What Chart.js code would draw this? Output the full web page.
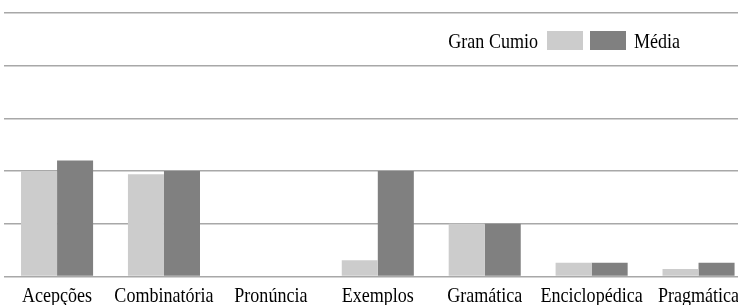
<!DOCTYPE html>
<html><head><meta charset="utf-8">
<script src="https://cdn.jsdelivr.net/npm/chart.js@4"></script>
<style>
html,body{margin:0;padding:0;background:#fff;overflow:hidden;width:738px;height:305px}
#wrap{position:relative;width:752px;height:305px}
</style>
</head><body><div id="wrap"><canvas id="c"></canvas></div>
<script>
const categories = ['Acepções','Combinatória','Pronúncia','Exemplos','Gramática','Enciclopédica','Pragmática'];
const seriesNames = ['Gran Cumio','Média'];
const granCumio = [2.0, 1.94, 0, 0.31, 1.0, 0.26, 0.14];
const media = [2.2, 2.0, 0, 2.0, 1.0, 0.26, 0.26];
const yTicks = [0,1,2,3,4,5];
const colors = ['#cccccc','#808080'];

const FONT = '22px "Liberation Serif", "Times New Roman", serif';
const SQUEEZE = 0.82;

function squeezedText(ctx, text, x, y, align){
  ctx.save();
  ctx.font = FONT;
  ctx.fillStyle = '#000';
  ctx.textBaseline = 'alphabetic';
  ctx.textAlign = align;
  ctx.translate(x, y);
  ctx.scale(SQUEEZE, 1);
  ctx.fillText(text, 0, 0);
  ctx.restore();
}

const textPlugin = {
  id: 'textPlugin',
  afterDraw(chart){
    const ctx = chart.ctx;
    const xs = chart.scales.x;
    const base = chart.chartArea.bottom;
    categories.forEach((c,i)=>{
      squeezedText(ctx, c, xs.getPixelForValue(i), base + 25, 'center');
    });
    // legend
    const ds = chart.data.datasets;
    const ly = 48;
    squeezedText(ctx, ds[0].label, 538, ly, 'right');
    ctx.save();
    ctx.fillStyle = ds[0].backgroundColor;
    ctx.fillRect(547, 31, 36, 19);
    ctx.fillStyle = ds[1].backgroundColor;
    ctx.fillRect(590, 31, 36, 19);
    ctx.restore();
    squeezedText(ctx, ds[1].label, 634, ly, 'left');
  }
};

new Chart(document.getElementById('c'), {
  type: 'bar',
  data: {
    labels: categories,
    datasets: [
      {label: seriesNames[0], data: granCumio, backgroundColor: colors[0], borderWidth: 0},
      {label: seriesNames[1], data: media, backgroundColor: colors[1], borderWidth: 0}
    ]
  },
  options: {
    responsive: true,
    maintainAspectRatio: false,
    animation: false,
    devicePixelRatio: 1,
    categoryPercentage: 0.674,
    barPercentage: 1,
    layout: {padding: {left: 3.6, right: 0, top: 13, bottom: 28.5}},
    plugins: {legend: {display: false}, tooltip: {enabled: false}},
    scales: {
      x: {display: false, offset: true},
      y: {
        min: yTicks[0], max: yTicks[yTicks.length-1],
        afterBuildTicks(scale){ scale.ticks = yTicks.map(v=>({value:v})); },
        ticks: {display: false},
        grid: {color: '#a8a8a8', lineWidth: 1.5, drawTicks: false},
        border: {display: false}
      }
    }
  },
  plugins: [textPlugin]
});
</script>
</body></html>
